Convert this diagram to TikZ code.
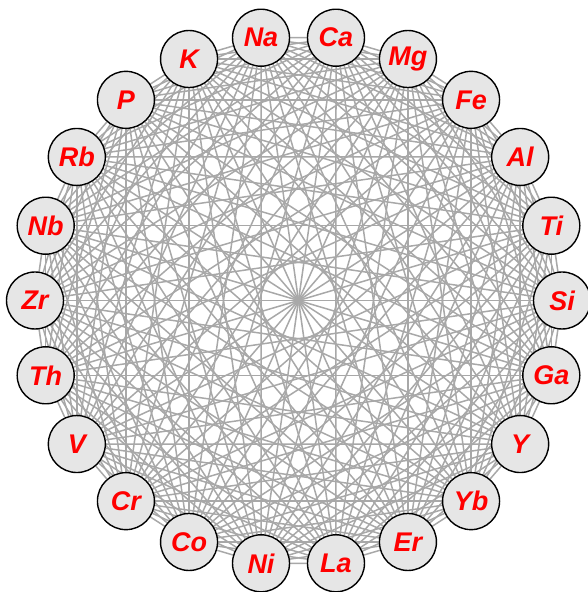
\documentclass[tikz,border=0pt]{standalone}
\usepackage{fontspec}
\setmainfont{Liberation Sans}
\definecolor{nodegray}{HTML}{E6E6E6}
\definecolor{edgegray}{HTML}{A8A8A8}
\pgfdeclarelayer{bg}
\pgfsetlayers{bg,main}
\begin{document}
\begin{tikzpicture}[x=1pt,y=1pt,
  elem/.style={circle, draw=black, line width=1.4pt, fill=nodegray, minimum size=57pt, inner sep=0pt, text=red, font=\fontsize{27}{30}\selectfont\bfseries\itshape},
  edge/.style={draw=edgegray, line width=1.5pt}]
\useasboundingbox (0,0) rectangle (587,592);
\foreach \lab [count=\i from 0] in {Si,Ti,Al,Fe,Mg,Ca,Na,K,P,Rb,Nb,Zr,Th,V,Cr,Co,Ni,La,Er,Yb,Y,Ga}
  \node[elem] (n\i) at ({298.5+263.5*cos(\i*360/22)},{291.5+265.5*sin(\i*360/22)}) {\raisebox{-1.5pt}{\lab}};
\begin{pgfonlayer}{bg}
\foreach \i in {0,...,20} {
  \pgfmathtruncatemacro\s{\i+1}
  \foreach \j in {\s,...,21}
    \draw[edge] (n\i) -- (n\j);
}
\end{pgfonlayer}
\end{tikzpicture}
\end{document}
